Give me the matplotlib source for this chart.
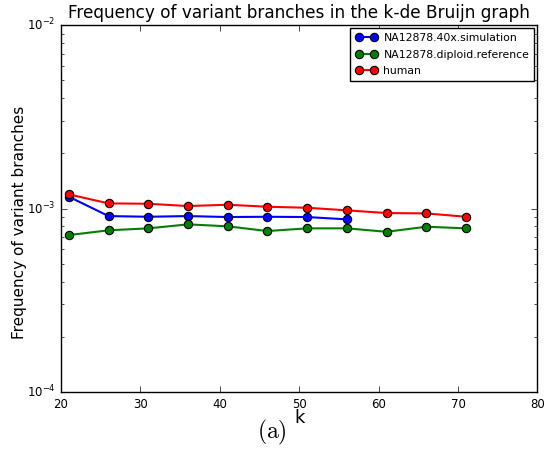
import matplotlib
matplotlib.use("Agg")
import matplotlib.pyplot as plt

plt.style.use('classic')
plt.rcParams['mathtext.fontset'] = 'cm'

k_sim = [21, 26, 31, 36, 41, 46, 51, 56]
sim = [1.160e-3, 0.910e-3, 0.902e-3, 0.910e-3, 0.899e-3, 0.902e-3, 0.899e-3, 0.873e-3]

k_full = [21, 26, 31, 36, 41, 46, 51, 56, 61, 66, 71]
diploid = [0.717e-3, 0.761e-3, 0.780e-3, 0.820e-3, 0.800e-3, 0.754e-3, 0.780e-3, 0.780e-3, 0.747e-3, 0.796e-3, 0.780e-3]
human = [1.195e-3, 1.067e-3, 1.062e-3, 1.032e-3, 1.049e-3, 1.023e-3, 1.010e-3, 0.978e-3, 0.945e-3, 0.941e-3, 0.902e-3]

labels = ["NA12878.40x.simulation", "NA12878.diploid.reference", "human"]

fig = plt.figure(figsize=(5.44, 4.65), dpi=100, facecolor='white')
ax = fig.add_axes([0.112, 0.157, 0.876, 0.789])
ax.set_facecolor('white')

ms = 6
ax.plot(k_sim, sim, '-o', color='b', markersize=ms, linewidth=1.5, label=labels[0], markeredgecolor='k', markeredgewidth=0.8)
ax.plot(k_full, diploid, '-o', color='g', markersize=ms, linewidth=1.5, label=labels[1], markeredgecolor='k', markeredgewidth=0.8)
ax.plot(k_full, human, '-o', color='r', markersize=ms, linewidth=1.5, label=labels[2], markeredgecolor='k', markeredgewidth=0.8)

ax.set_yscale('log')
ax.set_ylim(1e-4, 1e-2)
ax.set_xlim(20, 80)
ax.tick_params(labelsize=8.5)
ax.set_title("Frequency of variant branches in the k-de Bruijn graph", fontsize=12.2)
ax.set_xlabel("k", fontsize=13, labelpad=-1)
ax.set_ylabel("Frequency of variant branches", fontsize=11)
ax.yaxis.set_label_coords(-0.072, 0.463)
leg = ax.legend(loc='upper right', fontsize=7.8, numpoints=2, handlelength=2.0,
                borderaxespad=0.3, labelspacing=0.6, borderpad=0.45, handletextpad=0.6)
fig.text(0.5, 0.07, r"$\mathrm{(a)}$", ha='center', va='center', fontsize=17)

fig.savefig("out.png", dpi=100, facecolor='white')
